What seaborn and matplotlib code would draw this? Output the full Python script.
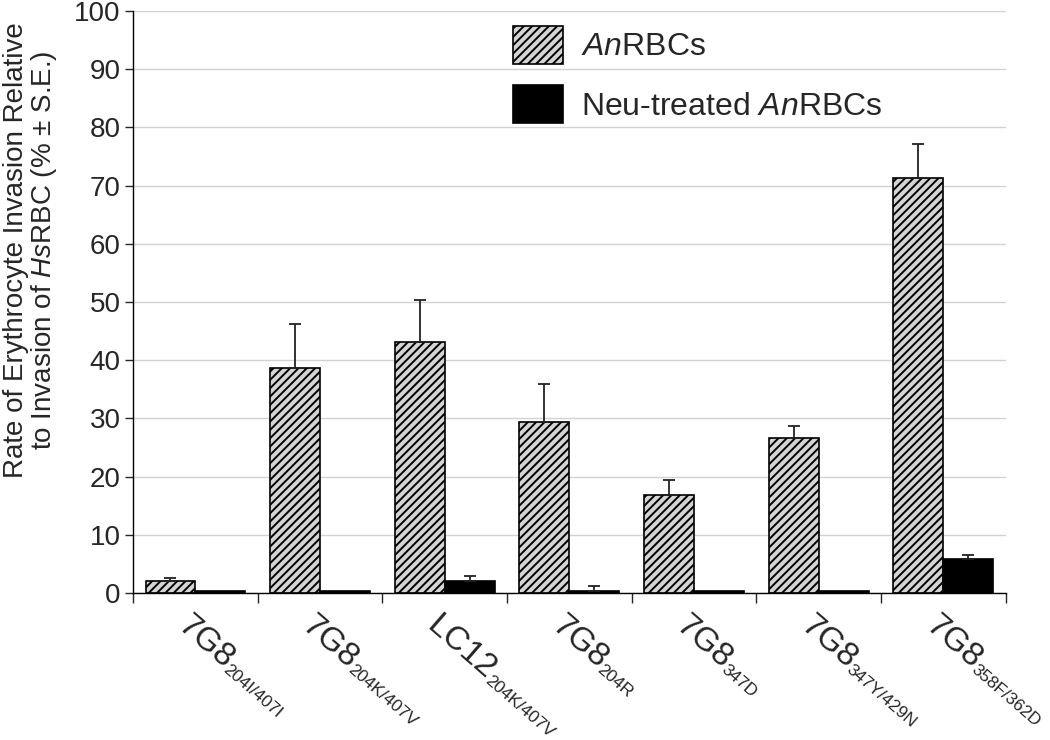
import numpy as np
import pandas as pd
import matplotlib
matplotlib.use("Agg")
import matplotlib.pyplot as plt
import seaborn as sns
from matplotlib.textpath import TextPath
from matplotlib.font_manager import FontProperties

# strains (main name + subscript mutation)
strains = ["7G8", "7G8", "LC12", "7G8", "7G8", "7G8", "7G8"]
mutations = ["204I/407I", "204K/407V", "204K/407V", "204R", "347D", "347Y/429N", "358F/362D"]

# invasion rate (% of HsRBC) and standard error
an_rbc = [2.0, 38.6, 43.1, 29.4, 16.8, 26.7, 71.4]
an_rbc_se = [0.5, 7.6, 7.3, 6.5, 2.6, 2.0, 5.7]
neu_rbc = [0.3, 0.3, 2.0, 0.3, 0.3, 0.3, 5.8]
neu_rbc_se = [0.0, 0.0, 0.9, 0.9, 0.0, 0.0, 0.8]

groups = ["$\\mathit{An}$RBCs", "Neu-treated $\\mathit{An}$RBCs"]

sns.set_style("white")
plt.rcParams["font.family"] = ["Liberation Sans", "DejaVu Sans"]
plt.rcParams["mathtext.fontset"] = "custom"
plt.rcParams["mathtext.rm"] = "Liberation Sans"
plt.rcParams["mathtext.it"] = "Liberation Sans:italic"
plt.rcParams["hatch.linewidth"] = 1.4

labels = [f"{s} {m}" for s, m in zip(strains, mutations)]
df = pd.DataFrame({
    "strain": labels * 2,
    "group": [groups[0]] * 7 + [groups[1]] * 7,
    "rate": an_rbc + neu_rbc,
})

fig = plt.figure(figsize=(10.5, 7.4), dpi=100)
ax = fig.add_axes([0.1267, 0.1986, 0.8311, 0.7864])

sns.barplot(data=df, x="strain", y="rate", hue="group",
            palette=["#d4d4d4", "black"], width=0.8, saturation=1,
            edgecolor="black", linewidth=1.2, ax=ax, legend=True)

for bar in ax.containers[0]:
    bar.set_hatch("////")

# upward-only error bars
for cont, se in zip(ax.containers, [an_rbc_se, neu_rbc_se]):
    for bar, e in zip(cont, se):
        if e <= 0:
            continue
        xc = bar.get_x() + bar.get_width() / 2
        h = bar.get_height()
        ax.errorbar(xc, h, yerr=[[0], [e]], color="#222222", elinewidth=1.3,
                    capsize=4, capthick=1.3, fmt="none", zorder=1)

ax.set_ylim(0, 100)
ax.set_xlim(-0.5, 6.5)
ax.set_yticks(range(0, 101, 10))
ax.yaxis.grid(True, color="#d2d2d2", linewidth=1)
ax.set_axisbelow(True)
ax.tick_params(axis="y", labelsize=20, length=6, width=1, direction="out", left=True, pad=3)

# ticks at group boundaries, labels drawn by hand (name + small subscript)
ax.set_xticks(range(7))
ax.set_xticklabels([])
ax.tick_params(axis="x", length=0)
ax.set_xticks([i - 0.5 for i in range(8)], minor=True)
ax.tick_params(axis="x", which="minor", length=7, width=1, direction="out", bottom=True)

main_fs, sub_fs = 24, 12.5
ang = 41
ca, sa = np.cos(np.radians(ang)), np.sin(np.radians(ang))
x0, y0 = -14.0, -25.5     # baseline start of main label, points from tick
gap, drop = 1.0, 1.5
fp = FontProperties(family="Liberation Sans")
trans = ax.get_xaxis_transform()
for i, (s, m) in enumerate(zip(strains, mutations)):
    ax.annotate(s, xy=(i, 0), xycoords=trans, xytext=(x0, y0), textcoords="offset points",
                fontsize=main_fs, rotation=-ang, rotation_mode="anchor",
                ha="left", va="baseline", annotation_clip=False)
    w = TextPath((0, 0), s, size=main_fs, prop=fp).get_extents().x1 + gap
    sx = x0 + w * ca - drop * sa
    sy = y0 - w * sa - drop * ca
    ax.annotate(m, xy=(i, 0), xycoords=trans, xytext=(sx, sy), textcoords="offset points",
                fontsize=sub_fs, rotation=-ang, rotation_mode="anchor",
                ha="left", va="baseline", annotation_clip=False)

for side in ["top", "right"]:
    ax.spines[side].set_visible(False)
for side in ["left", "bottom"]:
    ax.spines[side].set_color("black")
    ax.spines[side].set_linewidth(1)

ax.set_xlabel("")
ax.set_ylabel("Rate of Erythrocyte Invasion Relative\nto Invasion of $\\mathit{Hs}$RBC (% ± S.E.)",
              fontsize=20, linespacing=1.0)
ax.yaxis.set_label_coords(-0.085, 0.59)

leg = ax.legend(loc="upper left", bbox_to_anchor=(0.435, 0.975), frameon=False,
                fontsize=23, handlelength=1.57, handleheight=1.46,
                labelspacing=0.66, handletextpad=0.56, borderpad=0, borderaxespad=0)
leg.legend_handles[0].set_hatch("////")
leg.legend_handles[0].set_edgecolor("black")

fig.savefig("out.png", dpi=100)
